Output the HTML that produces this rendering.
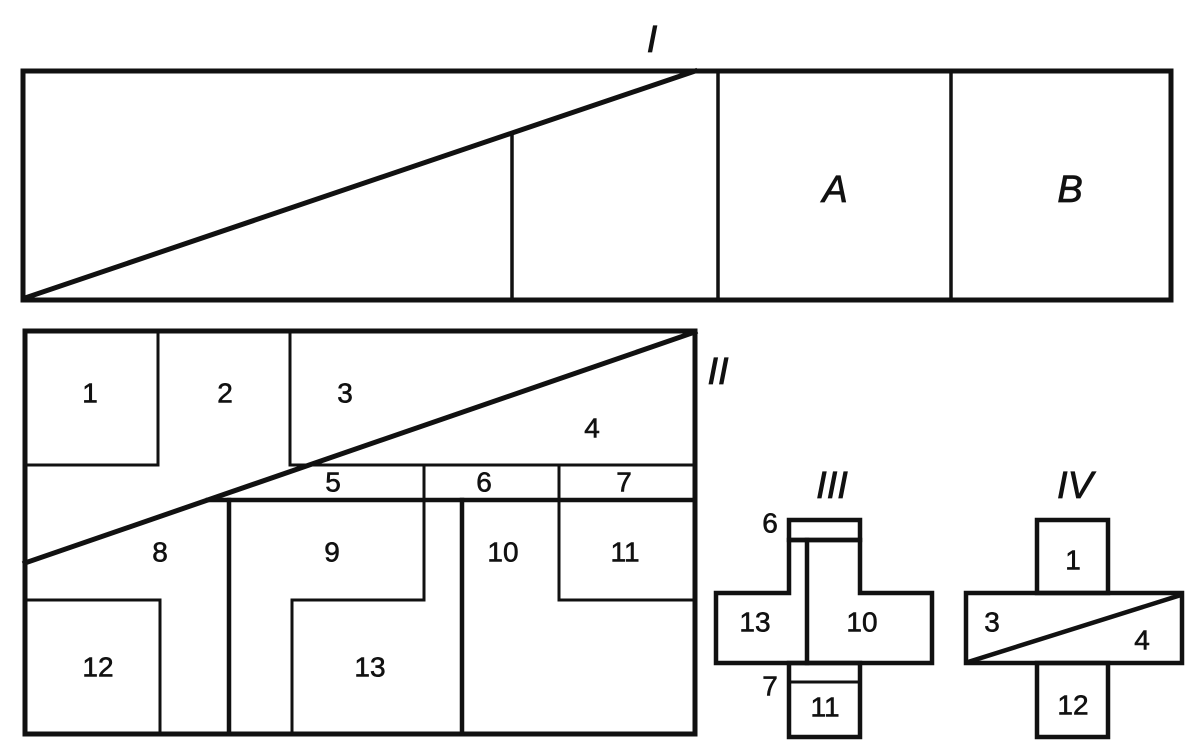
<!DOCTYPE html>
<html><head><meta charset="utf-8"><style>
html,body{margin:0;padding:0;background:#fff;}
svg{display:block;}
text{font-family:"Liberation Sans",sans-serif;font-size:28px;fill:#111;text-anchor:middle;dominant-baseline:central;stroke:#111;stroke-width:0.6;}
.r{font-style:italic;font-size:38px;stroke-width:0.8;}
</style></head><body>
<svg width="1194" height="744" viewBox="0 0 1194 744" xmlns="http://www.w3.org/2000/svg">
<g stroke="#111" fill="none" stroke-linecap="square">
<!-- I -->
<rect x="23" y="71" width="1148" height="229" stroke-width="5"/>
<line x1="25" y1="298" x2="695" y2="71" stroke-width="5"/>
<line x1="512" y1="133" x2="512" y2="300" stroke-width="3.5"/>
<line x1="718" y1="71" x2="718" y2="300" stroke-width="3.5"/>
<line x1="951" y1="71" x2="951" y2="300" stroke-width="3.5"/>
<!-- II -->
<rect x="25" y="331" width="670" height="403" stroke-width="5"/>
<polyline points="25,465 158,465 158,331" stroke-width="3"/>
<line x1="290" y1="331" x2="290" y2="465" stroke-width="3"/>
<line x1="290" y1="465" x2="695" y2="465" stroke-width="3"/>
<line x1="25" y1="563" x2="695" y2="332" stroke-width="5"/>
<line x1="208" y1="500" x2="695" y2="500" stroke-width="4.5"/>
<line x1="229" y1="500" x2="229" y2="734" stroke-width="4.5"/>
<line x1="462" y1="500" x2="462" y2="734" stroke-width="4.5"/>
<polyline points="424,465 424,600 292,600 292,734" stroke-width="3"/>
<polyline points="559,465 559,600 695,600" stroke-width="3"/>
<polyline points="25,600 160,600 160,734" stroke-width="3"/>
<!-- III -->
<rect x="789" y="520" width="71" height="20" stroke-width="4.5"/>
<polygon points="789,540 789,593 716,593 716,663 932,663 932,593 860,593 860,540" stroke-width="4.5"/>
<line x1="807" y1="540" x2="807" y2="663" stroke-width="4.5"/>
<rect x="789" y="663" width="71" height="74" stroke-width="4.5"/>
<line x1="789" y1="682" x2="860" y2="682" stroke-width="3"/>
<!-- IV -->
<rect x="1037" y="520" width="71" height="73" stroke-width="4.5"/>
<rect x="966" y="593" width="216" height="70" stroke-width="4.5"/>
<line x1="968" y1="662" x2="1181" y2="595" stroke-width="4.5"/>
<rect x="1037" y="663" width="71" height="74" stroke-width="4.5"/>
</g>
<text class="r" x="652" y="40">I</text>
<text class="r" x="835" y="190">A</text>
<text class="r" x="1070" y="190">B</text>
<text class="r" x="718" y="372">II</text>
<text class="r" x="832" y="486">III</text>
<text class="r" x="1075" y="486">IV</text>
<text x="90" y="393">1</text><text x="225" y="393">2</text><text x="345" y="393">3</text>
<text x="592" y="428">4</text><text x="333" y="482">5</text><text x="484" y="482">6</text>
<text x="624" y="482">7</text><text x="160" y="552">8</text><text x="332" y="552">9</text>
<text x="503" y="552">10</text><text x="625" y="552">11</text>
<text x="98" y="667">12</text><text x="370" y="667">13</text>
<text x="770" y="523">6</text><text x="770" y="686">7</text>
<text x="755" y="622">13</text><text x="862" y="622">10</text><text x="825" y="707">11</text>
<text x="1073" y="560">1</text><text x="992" y="622">3</text><text x="1142" y="640">4</text>
<text x="1073" y="705">12</text>
</svg>
</body></html>
